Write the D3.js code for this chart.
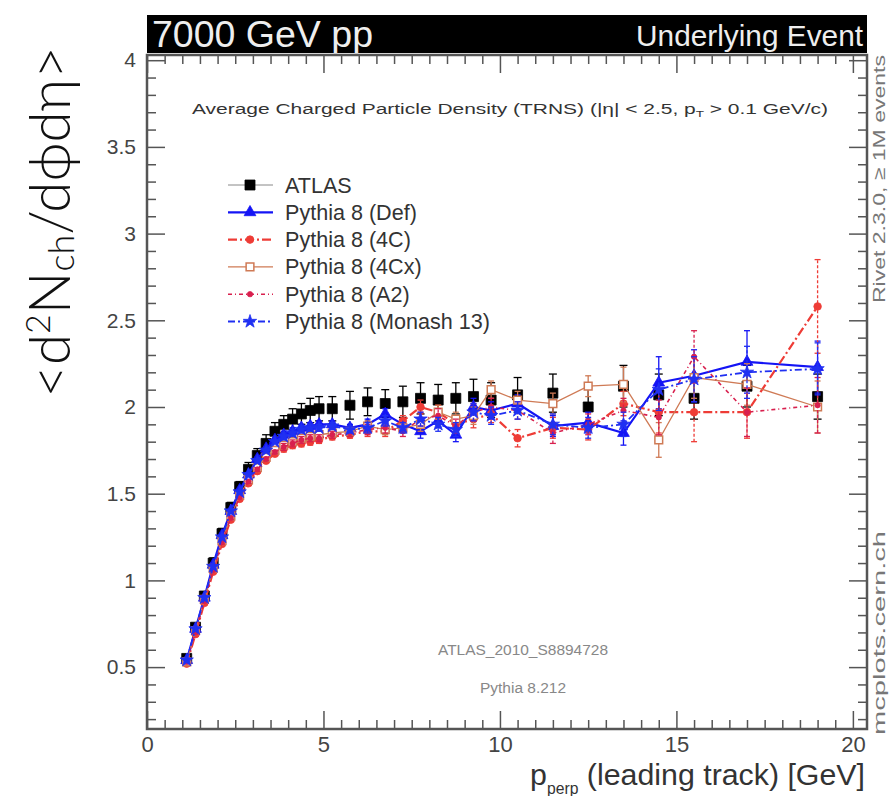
<!DOCTYPE html>
<html>
<head>
<meta charset="utf-8">
<title>UE transverse density</title>
<script src="https://cdn.jsdelivr.net/npm/d3@7"></script>
<style>
  body { margin: 0; background: #fff; }
  svg { display: block; }
  text { font-family: "Liberation Sans", Arial, sans-serif; }
</style>
</head>
<body>
<svg width="892" height="796"></svg>
<script>
// bin centres of leading-track pT [GeV]
var pT = [1.125, 1.375, 1.625, 1.875, 2.125, 2.375, 2.625, 2.875, 3.125, 3.375, 3.625, 3.875,
          4.125, 4.375, 4.625, 4.875, 5.25, 5.75, 6.25, 6.75, 7.25, 7.75, 8.25, 8.75, 9.25, 9.75,
          10.5, 11.5, 12.5, 13.5, 14.5, 15.5, 17, 19];

var atlas    = [0.55, 0.73, 0.91, 1.10, 1.27, 1.42, 1.54, 1.64, 1.72, 1.79, 1.86, 1.90,
                1.93, 1.96, 1.98, 1.99, 1.99, 2.01, 2.03, 2.02, 2.03, 2.05, 2.04, 2.05, 2.06, 2.04,
                2.07, 2.08, 2.00, 2.12, 2.07, 2.05, 2.12, 2.06];
var atlasErr = [0.02, 0.02, 0.02, 0.03, 0.03, 0.03, 0.03, 0.04, 0.04, 0.05, 0.05, 0.05,
                0.06, 0.06, 0.07, 0.07, 0.07, 0.08, 0.08, 0.08, 0.09, 0.09, 0.09, 0.09, 0.10, 0.10,
                0.10, 0.11, 0.11, 0.12, 0.12, 0.12, 0.12, 0.13];

var defTune  = [0.54, 0.72, 0.90, 1.09, 1.26, 1.40, 1.52, 1.61, 1.70, 1.76, 1.81, 1.84,
                1.86, 1.88, 1.89, 1.90, 1.90, 1.88, 1.90, 1.96, 1.90, 1.86, 1.92, 1.84, 2.00, 1.98,
                2.02, 1.89, 1.91, 1.85, 2.14, 2.18, 2.26, 2.23];
var defErr   = [0.01, 0.01, 0.01, 0.01, 0.01, 0.01, 0.01, 0.01, 0.01, 0.01, 0.01, 0.02,
                0.02, 0.02, 0.02, 0.02, 0.02, 0.02, 0.03, 0.03, 0.03, 0.04, 0.04, 0.04, 0.05, 0.05,
                0.05, 0.06, 0.06, 0.07, 0.15, 0.15, 0.18, 0.15];

var tune4C   = [0.52, 0.69, 0.87, 1.05, 1.21, 1.35, 1.47, 1.56, 1.63, 1.69, 1.73, 1.76,
                1.78, 1.79, 1.80, 1.81, 1.83, 1.84, 1.86, 1.86, 1.92, 2.00, 1.97, 1.90, 1.93, 1.96,
                1.82, 1.88, 1.87, 2.02, 1.97, 1.97, 1.97, 2.58];
var tune4CErr = [0.01, 0.01, 0.01, 0.01, 0.01, 0.01, 0.01, 0.01, 0.01, 0.01, 0.01, 0.02,
                 0.02, 0.02, 0.02, 0.02, 0.02, 0.02, 0.03, 0.03, 0.03, 0.04, 0.04, 0.04, 0.05, 0.05,
                 0.05, 0.06, 0.06, 0.07, 0.12, 0.17, 0.15, 0.27];

var tune4Cx  = [0.53, 0.71, 0.89, 1.07, 1.23, 1.37, 1.49, 1.58, 1.65, 1.71, 1.75, 1.78,
                1.80, 1.82, 1.83, 1.84, 1.85, 1.86, 1.89, 1.87, 1.88, 1.90, 1.97, 1.93, 1.95, 2.10,
                2.04, 2.02, 2.12, 2.13, 1.81, 2.17, 2.13, 2.00];
var tune4CxErr = [0.01, 0.01, 0.01, 0.01, 0.01, 0.01, 0.01, 0.01, 0.01, 0.01, 0.01, 0.02,
                  0.02, 0.02, 0.02, 0.02, 0.02, 0.02, 0.03, 0.03, 0.03, 0.04, 0.04, 0.04, 0.05, 0.05,
                  0.05, 0.06, 0.06, 0.10, 0.10, 0.12, 0.12, 0.15];

var tuneA2   = [0.53, 0.70, 0.88, 1.06, 1.22, 1.36, 1.48, 1.57, 1.64, 1.70, 1.74, 1.77,
                1.79, 1.81, 1.82, 1.82, 1.84, 1.85, 1.87, 1.88, 1.86, 1.93, 1.95, 1.89, 1.97, 2.00,
                1.98, 1.85, 1.90, 1.98, 1.94, 2.29, 1.97, 2.01];
var tuneA2Err = [0.01, 0.01, 0.01, 0.01, 0.01, 0.01, 0.01, 0.01, 0.01, 0.01, 0.01, 0.02,
                 0.02, 0.02, 0.02, 0.02, 0.02, 0.02, 0.03, 0.03, 0.03, 0.04, 0.04, 0.04, 0.05, 0.05,
                 0.05, 0.06, 0.06, 0.07, 0.10, 0.15, 0.14, 0.16];

var monash   = [0.54, 0.72, 0.90, 1.08, 1.25, 1.40, 1.51, 1.61, 1.69, 1.75, 1.80, 1.83,
                1.85, 1.87, 1.88, 1.88, 1.89, 1.87, 1.88, 1.92, 1.88, 1.93, 1.90, 1.87, 1.97, 1.95,
                1.98, 1.90, 1.88, 1.90, 2.10, 2.16, 2.20, 2.22];
var monashErr = [0.01, 0.01, 0.01, 0.01, 0.01, 0.01, 0.01, 0.01, 0.01, 0.01, 0.01, 0.02,
                 0.02, 0.02, 0.02, 0.02, 0.02, 0.02, 0.03, 0.03, 0.03, 0.04, 0.04, 0.04, 0.05, 0.05,
                 0.05, 0.06, 0.06, 0.07, 0.12, 0.13, 0.15, 0.15];

var legendLabels = ["ATLAS", "Pythia 8 (Def)", "Pythia 8 (4C)", "Pythia 8 (4Cx)", "Pythia 8 (A2)", "Pythia 8 (Monash 13)"];
var xTicks = [0, 5, 10, 15, 20];
var yTicks = [0.5, 1, 1.5, 2, 2.5, 3, 3.5, 4];

var svg = d3.select("svg");
var L = 147, R = 867, T = 55, B = 729;
var x = d3.scaleLinear().domain([0, 20.4]).range([L, R]);
var y = d3.scaleLinear().domain([0.143, 4.03]).range([B, T]);

// fit a text element's font size to a wanted width
function fitWidth(sel, size, want) {
  var w = sel.node().getComputedTextLength();
  sel.style("font-size", (size * want / w).toFixed(2) + "px");
}

// header bar
svg.append("rect").attr("x", L).attr("y", 15).attr("width", R - L).attr("height", 38).attr("fill", "#000");
var h1 = svg.append("text").attr("x", L + 5).attr("y", 47).attr("fill", "#eee")
  .style("font-size", "32px").text("7000 GeV pp");
fitWidth(h1, 32, 221);
var h2 = svg.append("text").attr("x", R - 4).attr("y", 46).attr("fill", "#eee")
  .attr("text-anchor", "end").style("font-size", "27px").text("Underlying Event");
fitWidth(h2, 27, 227);

// axes, ticks inside the frame
var minorX = d3.range(0, 20.41, 0.5).filter(function(v){ return Math.abs(v % 5) > 1e-6; });
var minorY = d3.range(0.2, 4.01, 0.1).filter(function(v){ return Math.abs(Math.round(v * 2) - v * 2) > 1e-6; });

function tickStyle(g) {
  g.select(".domain").remove();
  g.selectAll(".tick line").attr("stroke", "#555").attr("stroke-width", 1.5);
  g.selectAll(".tick text").attr("fill", "#444").style("font-family", "'Liberation Sans', Arial, sans-serif");
}

svg.append("g").attr("transform", "translate(0," + B + ")")
  .call(d3.axisBottom(x).tickValues(xTicks).tickSize(-18).tickPadding(7).tickFormat(d3.format("d")))
  .call(tickStyle).selectAll("text").style("font-size", "22px");
svg.append("g").attr("transform", "translate(0," + B + ")")
  .call(d3.axisBottom(x).tickValues(minorX).tickSize(-9).tickFormat("")).call(tickStyle);
svg.append("g").attr("transform", "translate(0," + T + ")")
  .call(d3.axisTop(x).tickValues(xTicks).tickSize(-18).tickFormat("")).call(tickStyle);
svg.append("g").attr("transform", "translate(0," + T + ")")
  .call(d3.axisTop(x).tickValues(minorX).tickSize(-9).tickFormat("")).call(tickStyle);

svg.append("g").attr("transform", "translate(" + L + ",0)")
  .call(d3.axisLeft(y).tickValues(yTicks).tickSize(-18).tickPadding(11).tickFormat(d3.format("~g")))
  .call(tickStyle).selectAll("text").style("font-size", "21px");
svg.append("g").attr("transform", "translate(" + L + ",0)")
  .call(d3.axisLeft(y).tickValues(minorY).tickSize(-9).tickFormat("")).call(tickStyle);
svg.append("g").attr("transform", "translate(" + R + ",0)")
  .call(d3.axisRight(y).tickValues(yTicks).tickSize(-18).tickFormat("")).call(tickStyle);
svg.append("g").attr("transform", "translate(" + R + ",0)")
  .call(d3.axisRight(y).tickValues(minorY).tickSize(-9).tickFormat("")).call(tickStyle);

svg.append("rect").attr("x", L).attr("y", T).attr("width", R - L).attr("height", B - T)
  .attr("fill", "none").attr("stroke", "#555").attr("stroke-width", 2.5);

// plot title
var title = svg.append("text").attr("x", (L + R) / 2 + 3).attr("y", 114).attr("text-anchor", "middle")
  .attr("fill", "#333").style("font-size", "14px")
  .attr("textLength", 636).attr("lengthAdjust", "spacingAndGlyphs");
title.append("tspan").text("Average Charged Particle Density (TRNS) (|\u03b7| < 2.5, p");
title.append("tspan").attr("dy", 3).style("font-size", "9px").text("T");
title.append("tspan").attr("dy", -3).text(" > 0.1 GeV/c)");

// analysis / generator labels
var a1 = svg.append("text").attr("x", 523).attr("y", 655).attr("text-anchor", "middle")
  .attr("fill", "#888").style("font-size", "15px").text("ATLAS_2010_S8894728");
fitWidth(a1, 15, 170);
svg.append("text").attr("x", 523).attr("y", 693).attr("text-anchor", "middle")
  .attr("fill", "#888").style("font-size", a1.style("font-size")).text("Pythia 8.212");

// series
var styles = [
  { vals: atlas,    errs: atlasErr,   color: "#000",    line: false, width: 1.2, dash: null,        sym: d3.symbolSquare,   size: 100, fill: true,  cap: 4 },
  { vals: defTune,  errs: defErr,     color: "#1414f5", line: true,  width: 2.2, dash: null,        sym: d3.symbolTriangle, size: 60,  fill: true,  cap: 3 },
  { vals: tune4C,   errs: tune4CErr,  color: "#ee3c36", line: true,  width: 2.2, dash: "9,3,2,3",   sym: d3.symbolCircle,   size: 45,  fill: true,  cap: 3 },
  { vals: tune4Cx,  errs: tune4CxErr, color: "#cf7a55", line: true,  width: 1.3, dash: null,        sym: d3.symbolSquare,   size: 60,  fill: false, cap: 3 },
  { vals: tuneA2,   errs: tuneA2Err,  color: "#d8204e", line: true,  width: 1.6, dash: "4,3,1,3",   sym: d3.symbolCircle,   size: 22,  fill: true,  cap: 3 },
  { vals: monash,   errs: monashErr,  color: "#2030f2", line: true,  width: 1.8, dash: "7,3,2,3",   sym: d3.symbolStar,     size: 55,  fill: true,  cap: 3 }
];

var lineGen = d3.line().x(function(d){ return x(d[0]); }).y(function(d){ return y(d[1]); });

styles.forEach(function(s) {
  var pts = pT.map(function(p, i){ return [p, s.vals[i], s.errs[i]]; });
  var g = svg.append("g");
  g.selectAll(null).data(pts).join("line")
    .attr("x1", function(d){ return x(d[0]); }).attr("x2", function(d){ return x(d[0]); })
    .attr("y1", function(d){ return y(d[1] - d[2]); }).attr("y2", function(d){ return y(d[1] + d[2]); })
    .attr("stroke", s.color).attr("stroke-width", 1.3).attr("stroke-dasharray", s.dash ? "3,2" : null);
  [-1, 1].forEach(function(sg) {
    g.selectAll(null).data(pts).join("line")
      .attr("x1", function(d){ return x(d[0]) - s.cap; }).attr("x2", function(d){ return x(d[0]) + s.cap; })
      .attr("y1", function(d){ return y(d[1] + sg * d[2]); }).attr("y2", function(d){ return y(d[1] + sg * d[2]); })
      .attr("stroke", s.color).attr("stroke-width", 1.3);
  });
  if (s.line) {
    g.append("path").datum(pts).attr("d", lineGen).attr("fill", "none")
      .attr("stroke", s.color).attr("stroke-width", s.width).attr("stroke-dasharray", s.dash);
  }
  g.selectAll(null).data(pts).join("path")
    .attr("transform", function(d){ return "translate(" + x(d[0]) + "," + y(d[1]) + ")"; })
    .attr("d", d3.symbol().type(s.sym).size(s.size))
    .attr("fill", s.fill ? s.color : "#fff").attr("stroke", s.color).attr("stroke-width", s.fill ? 0.8 : 1.5);
});

// legend
var leg = svg.append("g");
legendLabels.forEach(function(lab, i) {
  var s = styles[i], ly = 185 + i * 27.3;
  leg.append("line").attr("x1", 228).attr("x2", 273).attr("y1", ly).attr("y2", ly)
    .attr("stroke", i === 0 ? "#888" : s.color).attr("stroke-width", i === 0 ? 1 : s.width)
    .attr("stroke-dasharray", s.dash);
  leg.append("path").attr("transform", "translate(250," + ly + ")")
    .attr("d", d3.symbol().type(s.sym).size(s.size))
    .attr("fill", s.fill ? s.color : "#fff").attr("stroke", s.color).attr("stroke-width", s.fill ? 0.8 : 1.5);
  leg.append("text").attr("class", "legtxt").attr("x", 285).attr("y", ly).attr("dy", "0.35em")
    .attr("fill", "#333").style("font-size", "15px").text(lab);
});
var legW = leg.selectAll(".legtxt").nodes()[5].getComputedTextLength();
leg.selectAll(".legtxt").style("font-size", (15 * 205 / legW).toFixed(2) + "px");

// side labels
svg.append("text").attr("transform", "translate(885,55) rotate(-90)").attr("text-anchor", "end")
  .attr("fill", "#777").style("font-size", "17px")
  .attr("textLength", 248).attr("lengthAdjust", "spacingAndGlyphs").text("Rivet 2.3.0, \u2265 1M events");
svg.append("text").attr("transform", "translate(885,735) rotate(-90)").attr("text-anchor", "start")
  .attr("fill", "#777").style("font-size", "17px")
  .attr("textLength", 204).attr("lengthAdjust", "spacingAndGlyphs").text("mcplots.cern.ch");

// x axis title
var xt = svg.append("text").attr("x", 865).attr("y", 785).attr("text-anchor", "end")
  .attr("fill", "#333").style("font-size", "27px");
xt.append("tspan").text("p");
xt.append("tspan").attr("class", "sub").attr("dy", 9).style("font-size", "14px").text("perp");
xt.append("tspan").attr("dy", -9).text(" (leading track) [GeV]");
var xtw = xt.node().getComputedTextLength();
var xs = 335 / xtw;
xt.style("font-size", (27 * xs).toFixed(2) + "px");
xt.select(".sub").style("font-size", (14 * xs).toFixed(2) + "px");

// big y axis title
var yt = svg.append("text").attr("transform", "translate(70,222) rotate(-90)").attr("text-anchor", "middle")
  .attr("fill", "#111").style("font-family", "Lato, 'Open Sans', sans-serif").style("font-weight", 300)
  .style("font-size", "56px");
yt.append("tspan").text("<d");
yt.append("tspan").attr("dy", -20).style("font-size", "34px").text("2");
yt.append("tspan").attr("dy", 20).text("N");
yt.append("tspan").attr("dy", 4).style("font-size", "36px").text("ch");
yt.append("tspan").attr("dy", -4).text("/d\u03d5d\u03b7>");
var ytw = yt.node().getComputedTextLength();
yt.style("font-size", (56 * 352 / ytw).toFixed(2) + "px");
</script>
</body>
</html>
